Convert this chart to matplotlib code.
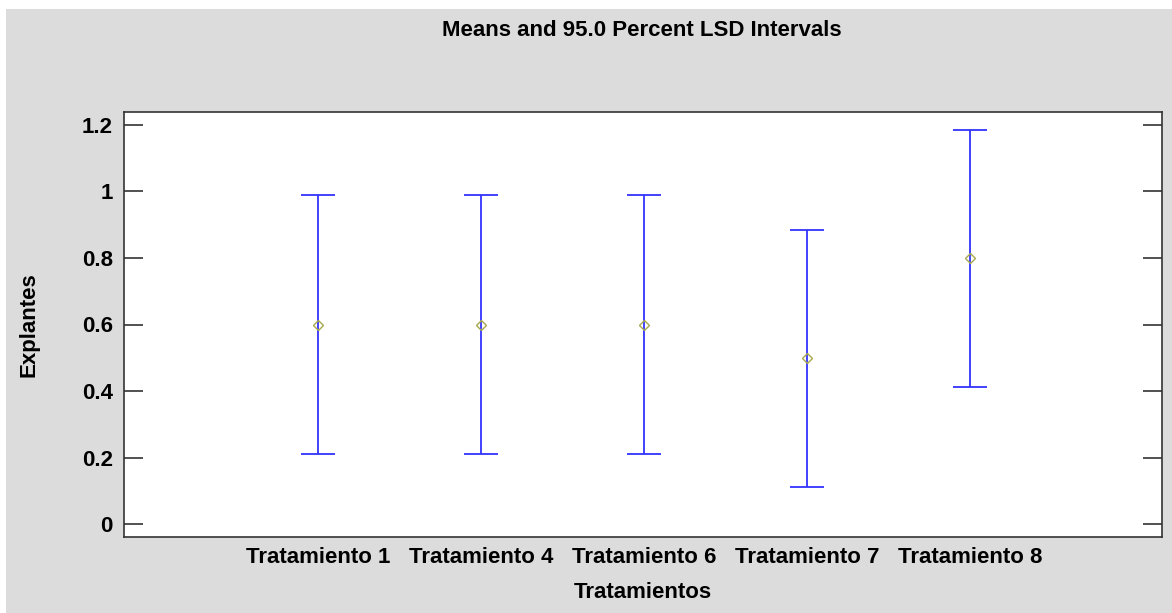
import numpy as np
import matplotlib.pyplot as plt
from matplotlib.patches import Rectangle

plt.rcParams['font.family'] = ['Liberation Sans', 'DejaVu Sans']

# data
categories = ["Tratamiento 1", "Tratamiento 4", "Tratamiento 6", "Tratamiento 7", "Tratamiento 8"]
means = [0.6, 0.6, 0.6, 0.5, 0.8]
lower = [0.21, 0.21, 0.21, 0.11, 0.412]
upper = [0.988, 0.988, 0.988, 0.885, 1.186]

W, H = 1172, 613
fig = plt.figure(figsize=(W / 100, H / 100), dpi=100, facecolor='white')
# gray panel, leaving a thin white strip on top and left as in the screenshot
fig.patches.append(Rectangle((6 / W, 0), 1, 1 - 9 / H, transform=fig.transFigure,
                             facecolor='#dcdcdc', edgecolor='none', zorder=-10))

ax = fig.add_axes([124/W, 1 - 537/H, (1162-124)/W, (537-112)/H])
ax.set_facecolor('white')

x = np.arange(1, len(categories) + 1)
means = np.array(means)
yerr = [means - np.array(lower), np.array(upper) - means]
ax.errorbar(x, means, yerr=yerr, fmt='none', ecolor='#3333ff', elinewidth=1.3,
            capsize=12, capthick=1.3)
ax.plot(x, means, 'D', ms=5, mfc='none', mec='#a8a850', mew=1.0)

ax.set_xlim(-0.19, 6.18)
ax.set_ylim(-0.039, 1.239)
ax.set_xticks(x)
ax.set_xticklabels(categories, fontsize=16, fontweight='bold')
ax.tick_params(axis='x', length=0, pad=7)
ax.set_yticks([0, 0.2, 0.4, 0.6, 0.8, 1.0, 1.2])
ax.set_yticklabels(['0', '0.2', '0.4', '0.6', '0.8', '1', '1.2'], fontsize=16, fontweight='bold')
ax.tick_params(axis='y', direction='in', length=14, width=1.2, color='#333333',
               right=True, pad=8)
for s in ax.spines.values():
    s.set_color('#333333')
    s.set_linewidth(1.2)

ax.set_xlabel("Tratamientos", fontsize=16, fontweight='bold')
ax.xaxis.set_label_coords(0.5, -0.106)
ax.set_ylabel("Explantes", fontsize=16, fontweight='bold')
ax.yaxis.set_label_coords(-0.081, 0.5)
fig.text(642/W, 1 - 31/H, "Means and 95.0 Percent LSD Intervals",
         ha='center', va='center', fontsize=16, fontweight='bold')

fig.savefig("out.png", dpi=100, facecolor=fig.get_facecolor())
